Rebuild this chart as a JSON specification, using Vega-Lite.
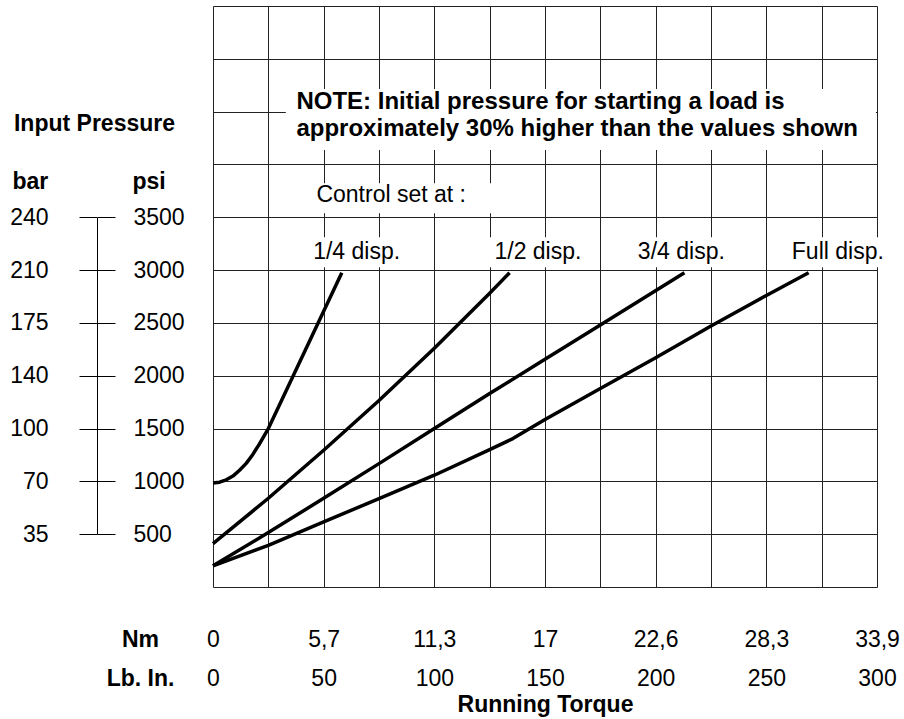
{
  "$schema": "https://vega.github.io/schema/vega-lite/v6.json",
  "width": 664,
  "height": 581,
  "autosize": {"type": "none"},
  "padding": {"left": 213, "top": 6, "right": 27, "bottom": 132},
  "background": "white",
  "config": {
    "view": {"stroke": null},
    "font": "Liberation Sans",
    "axis": {
      "labelFont": "Liberation Sans",
      "titleFont": "Liberation Sans",
      "labelColor": "black",
      "titleColor": "black",
      "labelFontSize": 23,
      "titleFontSize": 23,
      "gridColor": "#222",
      "gridOpacity": 1,
      "gridWidth": 1,
      "labelFlush": false,
      "labelOverlap": false,
      "labelBound": false
    }
  },
  "datasets": {
    "curves": [
      {"series": "1/4", "lb": 0, "psi": 985},
      {"series": "1/4", "lb": 3, "psi": 992},
      {"series": "1/4", "lb": 6, "psi": 1015},
      {"series": "1/4", "lb": 9, "psi": 1050},
      {"series": "1/4", "lb": 12, "psi": 1105},
      {"series": "1/4", "lb": 15, "psi": 1170},
      {"series": "1/4", "lb": 18, "psi": 1255},
      {"series": "1/4", "lb": 21, "psi": 1355},
      {"series": "1/4", "lb": 25, "psi": 1500},
      {"series": "1/4", "lb": 58.2, "psi": 2975},
      {"series": "1/2", "lb": 0, "psi": 411},
      {"series": "1/2", "lb": 25, "psi": 840},
      {"series": "1/2", "lb": 50, "psi": 1295},
      {"series": "1/2", "lb": 75, "psi": 1765},
      {"series": "1/2", "lb": 100, "psi": 2260},
      {"series": "1/2", "lb": 125, "psi": 2780},
      {"series": "1/2", "lb": 134, "psi": 2975},
      {"series": "3/4", "lb": 0, "psi": 200},
      {"series": "3/4", "lb": 25, "psi": 515},
      {"series": "3/4", "lb": 50, "psi": 840},
      {"series": "3/4", "lb": 75, "psi": 1168},
      {"series": "3/4", "lb": 100, "psi": 1500},
      {"series": "3/4", "lb": 125, "psi": 1831},
      {"series": "3/4", "lb": 150, "psi": 2155},
      {"series": "3/4", "lb": 175, "psi": 2480},
      {"series": "3/4", "lb": 213, "psi": 2975},
      {"series": "Full", "lb": 0, "psi": 200},
      {"series": "Full", "lb": 25, "psi": 395},
      {"series": "Full", "lb": 50, "psi": 616},
      {"series": "Full", "lb": 75, "psi": 837},
      {"series": "Full", "lb": 100, "psi": 1058},
      {"series": "Full", "lb": 125, "psi": 1300},
      {"series": "Full", "lb": 135.5, "psi": 1405},
      {"series": "Full", "lb": 150, "psi": 1585},
      {"series": "Full", "lb": 175, "psi": 1880},
      {"series": "Full", "lb": 200, "psi": 2170},
      {"series": "Full", "lb": 225, "psi": 2470},
      {"series": "Full", "lb": 250, "psi": 2760},
      {"series": "Full", "lb": 269.1, "psi": 2975}
    ],
    "boxes": [
      {"name": "note", "lb1": 32.9, "lb2": 299.5, "psi1": 4136, "psi2": 4714},
      {"name": "control", "lb1": 41.4, "lb2": 128.3, "psi1": 3539, "psi2": 3823},
      {"name": "1/4", "lb1": 41.4, "lb2": 88.5, "psi1": 3027, "psi2": 3311},
      {"name": "1/2", "lb1": 122, "lb2": 168.9, "psi1": 3027, "psi2": 3311},
      {"name": "3/4", "lb1": 190, "lb2": 233.4, "psi1": 3027, "psi2": 3311},
      {"name": "Full", "lb1": 259.6, "lb2": 304.8, "psi1": 3027, "psi2": 3311}
    ],
    "notes": [
      {"lb": 37.7, "psi": 4591, "text": "NOTE: Initial pressure for starting a load is"},
      {"lb": 37.7, "psi": 4335, "text": "approximately 30% higher than the values shown"}
    ],
    "labels": [
      {"lb": 80.5, "psi": 3710, "text": "Control set at :"},
      {"lb": 64.9, "psi": 3170, "text": "1/4 disp."},
      {"lb": 146.8, "psi": 3170, "text": "1/2 disp."},
      {"lb": 211.6, "psi": 3170, "text": "3/4 disp."},
      {"lb": 282.3, "psi": 3170, "text": "Full disp."}
    ],
    "pressureTicks": [
      {"psi": 500, "bar": 35},
      {"psi": 1000, "bar": 70},
      {"psi": 1500, "bar": 100},
      {"psi": 2000, "bar": 140},
      {"psi": 2500, "bar": 175},
      {"psi": 3000, "bar": 210},
      {"psi": 3500, "bar": 240}
    ]
  },
  "layer": [
    {
      "data": {"name": "curves"},
      "mark": {"type": "line", "color": "black", "strokeWidth": 3.5, "opacity": 0},
      "encoding": {
        "x": {
          "field": "lb", "type": "quantitative",
          "scale": {"domain": [0, 300], "nice": false, "zero": false},
          "axis": {
            "orient": "bottom",
            "values": [0, 25, 50, 75, 100, 125, 150, 175, 200, 225, 250, 275, 300],
            "grid": true, "domain": false, "ticks": false, "tickSize": 0,
            "labelPadding": 52, "labelBaseline": "middle",
            "labelExpr": "datum.value % 50 === 0 ? ['0','5,7','11,3','17','22,6','28,3','33,9'][datum.value / 50] : ''",
            "title": "Nm", "titleFontWeight": "bold",
            "titleX": -73, "titleY": 52, "titleAlign": "center", "titleBaseline": "middle", "titleAngle": 0
          }
        },
        "y": {
          "field": "psi", "type": "quantitative",
          "scale": {"domain": [0, 5500], "nice": false, "zero": false},
          "axis": {
            "orient": "left",
            "values": [0, 500, 1000, 1500, 2000, 2500, 3000, 3500, 4000, 4500, 5000, 5500],
            "grid": true, "domain": false, "ticks": false, "labels": false,
            "title": "Input Pressure", "titleFontWeight": "bold", "titleAngle": 0,
            "titleX": -119, "titleY": 117, "titleAlign": "center", "titleBaseline": "middle"
          }
        },
        "detail": {"field": "series", "type": "nominal"}
      }
    },
    {
      "data": {"name": "boxes"},
      "mark": {"type": "rect", "fill": "white", "stroke": null},
      "encoding": {
        "x": {
          "field": "lb1", "type": "quantitative",
          "scale": {"domain": [0, 300], "nice": false, "zero": false},
          "axis": {
            "orient": "bottom",
            "values": [0, 50, 100, 150, 200, 250, 300],
            "grid": false, "domain": false, "ticks": false, "tickSize": 0,
            "labelPadding": 91, "labelBaseline": "middle",
            "title": "Lb. In.", "titleFontWeight": "bold",
            "titleX": -73, "titleY": 91, "titleAlign": "center", "titleBaseline": "middle", "titleAngle": 0
          }
        },
        "x2": {"field": "lb2"},
        "y": {
          "field": "psi1", "type": "quantitative",
          "scale": {"domain": [0, 5500], "nice": false, "zero": false},
          "axis": null
        },
        "y2": {"field": "psi2"}
      }
    },
    {
      "data": {"name": "curves"},
      "mark": {"type": "line", "color": "black", "strokeWidth": 3.5, "strokeCap": "butt", "strokeJoin": "round"},
      "encoding": {
        "x": {
          "field": "lb", "type": "quantitative",
          "scale": {"domain": [0, 300], "nice": false, "zero": false},
          "axis": null
        },
        "y": {
          "field": "psi", "type": "quantitative",
          "scale": {"domain": [0, 5500], "nice": false, "zero": false},
          "axis": null
        },
        "detail": {"field": "series", "type": "nominal"}
      }
    },
    {
      "data": {"name": "notes"},
      "mark": {"type": "text", "font": "Liberation Sans", "fontWeight": "bold", "fontSize": 24, "align": "left", "baseline": "middle", "color": "black"},
      "encoding": {
        "x": {
          "field": "lb", "type": "quantitative",
          "scale": {"domain": [0, 300], "nice": false, "zero": false},
          "axis": {
            "orient": "bottom", "values": [], "grid": false, "domain": false, "ticks": false, "labels": false,
            "title": "Running Torque", "titleFontWeight": "bold",
            "titleX": 332, "titleY": 117, "titleAlign": "center", "titleBaseline": "middle", "titleAngle": 0
          }
        },
        "y": {
          "field": "psi", "type": "quantitative",
          "scale": {"domain": [0, 5500], "nice": false, "zero": false},
          "axis": null
        },
        "text": {"field": "text", "type": "nominal"}
      }
    },
    {
      "data": {"name": "labels"},
      "mark": {"type": "text", "font": "Liberation Sans", "fontSize": 23, "align": "center", "baseline": "middle", "color": "black"},
      "encoding": {
        "x": {
          "field": "lb", "type": "quantitative",
          "scale": {"domain": [0, 300], "nice": false, "zero": false},
          "axis": null
        },
        "y": {
          "field": "psi", "type": "quantitative",
          "scale": {"domain": [0, 5500], "nice": false, "zero": false},
          "axis": null
        },
        "text": {"field": "text", "type": "nominal"}
      }
    },
    {
      "data": {"name": "pressureTicks"},
      "mark": {"type": "rule", "strokeOpacity": 0},
      "encoding": {
        "y": {
          "field": "psi", "type": "quantitative",
          "scale": {"domain": [500, 3500], "nice": false, "zero": false, "range": [{"expr": "height*10/11"}, {"expr": "height*4/11"}]},
          "axis": {
            "orient": "left", "offset": 116,
            "values": [500, 1000, 1500, 2000, 2500, 3000, 3500],
            "grid": false,
            "domain": true, "domainColor": "black", "domainWidth": 1,
            "ticks": true, "tickColor": "black", "tickWidth": 1, "tickSize": 18,
            "labelPadding": 31, "labelAlign": "right", "labelBaseline": "middle",
            "labelExpr": "['35','70','100','140','175','210','240'][(datum.value - 500) / 500]",
            "title": "bar", "titleFontWeight": "bold", "titleAngle": 0,
            "titleX": -85, "titleY": 175, "titleAlign": "left", "titleBaseline": "middle"
          }
        }
      }
    },
    {
      "data": {"name": "pressureTicks"},
      "mark": {"type": "rule", "strokeOpacity": 0},
      "encoding": {
        "y": {
          "field": "psi", "type": "quantitative",
          "scale": {"domain": [500, 3500], "nice": false, "zero": false, "range": [{"expr": "height*10/11"}, {"expr": "height*4/11"}]},
          "axis": {
            "orient": "left", "offset": 98,
            "values": [500, 1000, 1500, 2000, 2500, 3000, 3500],
            "grid": false,
            "domain": false,
            "ticks": true, "tickColor": "black", "tickWidth": 1, "tickSize": 18,
            "labelPadding": -36, "labelAlign": "left", "labelBaseline": "middle",
            "format": "d",
            "title": "psi", "titleFontWeight": "bold", "titleAngle": 0,
            "titleX": 17, "titleY": 175, "titleAlign": "left", "titleBaseline": "middle"
          }
        }
      }
    }
  ],
  "resolve": {"scale": {"y": "independent"}, "axis": {"x": "independent", "y": "independent"}}
}
